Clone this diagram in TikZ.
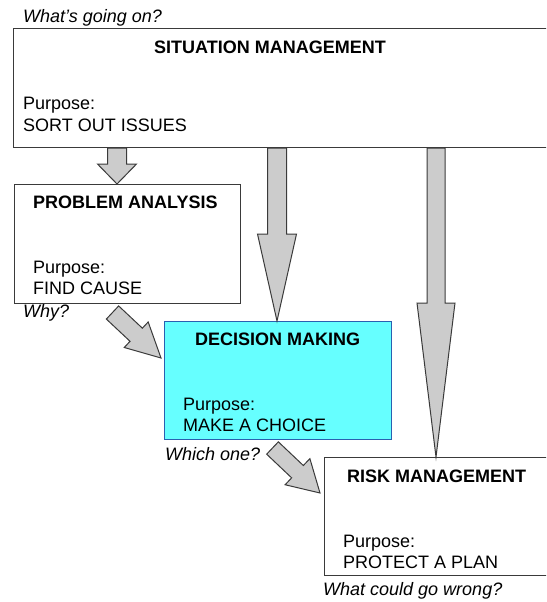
\documentclass[tikz,border=0pt]{standalone}
\usepackage{fontspec}
\setmainfont{Liberation Sans}
\usetikzlibrary{calc}

\definecolor{boxline}{HTML}{3A3A3A}
\definecolor{dmfill}{HTML}{66FFFF}
\definecolor{dmline}{HTML}{2A60B0}
\definecolor{arrowfill}{HTML}{CCCCCC}
\definecolor{arrowline}{HTML}{3A3A3A}

\tikzset{
  stagebox/.style={draw=boxline, line width=1.2pt, fill=white, inner sep=0pt, anchor=north west},
  focusbox/.style={stagebox, draw=dmline, fill=dmfill},
  txt/.style={inner sep=0pt, anchor=base west, font=\fontsize{18}{21}\selectfont},
  heading/.style={txt, font=\fontsize{18}{21}\selectfont\bfseries},
  question/.style={txt, font=\fontsize{18}{21}\selectfont\itshape},
  arrowbody/.style={draw=arrowline, fill=arrowfill, line width=1pt, line join=miter},
}

% Block arrow from #1 (tail) to #2 (tip):
% #3 shaft half-width, #4 head half-width, #5 head length
\newcommand\blockarrow[5]{%
  \coordinate (ba-base) at ($(#2)!#5!(#1)$);
  \draw[arrowbody]
    ($(#1)!#3!90:(#2)$) -- ($(ba-base)!#3!90:(#2)$) -- ($(ba-base)!#4!90:(#2)$)
    -- (#2)
    -- ($(ba-base)!#4!-90:(#2)$) -- ($(ba-base)!#3!-90:(#2)$) -- ($(#1)!#3!-90:(#2)$)
    -- cycle;
}

\begin{document}
\begin{tikzpicture}[x=1pt, y=-1pt]
  \useasboundingbox (0,0) rectangle (546,602);
  \clip (0,0) rectangle (546,602);

  % stage boxes
  \node[stagebox, minimum width=560pt, minimum height=119pt] (sm) at (13,28) {};
  \node[stagebox, minimum width=226pt, minimum height=119pt] (pa) at (14,184) {};
  \node[focusbox, minimum width=227pt, minimum height=118pt] (dm) at (164,321) {};
  \node[stagebox, minimum width=240pt, minimum height=118pt] (rm) at (324,457) {};

  % arrow anchor points
  \coordinate (c1) at (117,0);
  \coordinate (c2) at (277,0);
  \coordinate (c3) at (436,0);
  \coordinate (pa-out) at (112.5,312.5);
  \coordinate (dm-in) at ($(dm.north west)+(-3,37)$);
  \coordinate (dm-out) at (272.5,448);
  \coordinate (rm-in) at ($(rm.north west)+(-4,36)$);

  % downward arrows out of situation management
  \blockarrow{c1 |- sm.south}{c1 |- pa.north}{9.5pt}{19.5pt}{20pt}
  \blockarrow{c2 |- sm.south}{c2 |- dm.north}{9.5pt}{19.5pt}{87pt}
  \blockarrow{c3 |- sm.south}{c3 |- rm.north}{9pt}{19pt}{154pt}

  % diagonal arrows
  \blockarrow{pa-out}{dm-in}{9pt}{17.5pt}{34pt}
  \blockarrow{dm-out}{rm-in}{8.5pt}{18pt}{31pt}

  % texts
  \node[question] (q-sm) at (23,23) {What’s going on?};
  \node[heading] (h-sm) at (154,54) {SITUATION MANAGEMENT};
  \node[txt] (p-sm) at (23,109) {Purpose:};
  \node[txt] (g-sm) at (23,131) {SORT OUT ISSUES};

  \node[heading] (h-pa) at (33,208) {PROBLEM ANALYSIS};
  \node[txt] (p-pa) at (33,273) {Purpose:};
  \node[txt] (g-pa) at (33,294) {FIND CAUSE};
  \node[question] (q-pa) at (23,317) {Why?};

  \node[heading] (h-dm) at (195,345) {DECISION MAKING};
  \node[txt] (p-dm) at (183,410) {Purpose:};
  \node[txt] (g-dm) at (183,431) {MAKE A CHOICE};
  \node[question] (q-dm) at (165,460) {Which one?};

  \node[heading] (h-rm) at (347,482) {RISK MANAGEMENT};
  \node[txt] (p-rm) at (343,547) {Purpose:};
  \node[txt] (g-rm) at (343,568) {PROTECT A PLAN};
  \node[question] (q-rm) at (323,595) {What could go wrong?};
\end{tikzpicture}
\end{document}
